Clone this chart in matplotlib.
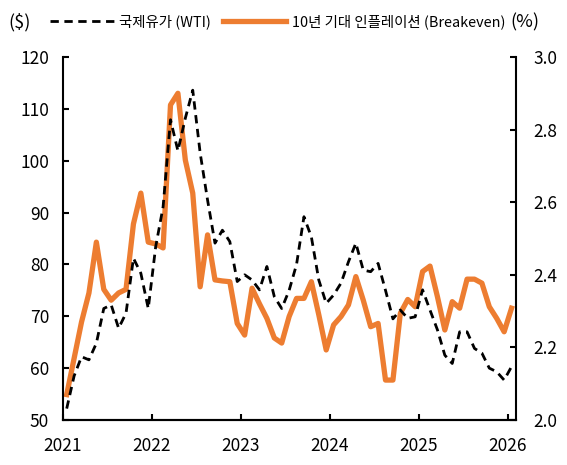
import numpy as np
import matplotlib
matplotlib.use("Agg")
import matplotlib.pyplot as plt
from matplotlib.lines import Line2D

plt.rcParams['font.family'] = ['Noto Sans CJK KR', 'DejaVu Sans']

# 월별 데이터 (2021.01 ~ 2026.01)
wti = [52.2, 58.5, 62.2, 61.6, 64.8, 71.5, 72.2, 67.7, 70.6, 81.2,
       78.3, 71.5, 83.4, 91.1, 107.9, 101.9, 108.2, 113.6, 101.5, 92.4,
       84.1, 86.6, 84.4, 76.7, 78.0, 77.0, 75.1, 79.6, 73.8, 71.5,
       75.0, 80.0, 89.2, 85.3, 77.0, 72.5, 74.1, 76.4, 80.5, 84.1,
       78.9, 78.6, 80.2, 75.0, 69.5, 71.2, 69.6, 69.9, 75.1, 71.2,
       67.4, 62.5, 60.9, 67.0, 67.0, 63.8, 62.9, 60.0, 59.3, 57.7, 60.3]
bei = [2.07, 2.17, 2.27, 2.35, 2.49, 2.36, 2.33, 2.35, 2.36, 2.54,
       2.625, 2.49, 2.485, 2.474, 2.868, 2.90, 2.716, 2.625, 2.367, 2.51,
       2.386, 2.383, 2.381, 2.266, 2.234, 2.363, 2.32, 2.28, 2.226, 2.212,
       2.285, 2.335, 2.335, 2.381, 2.29, 2.193, 2.262, 2.285, 2.317, 2.395,
       2.33, 2.257, 2.266, 2.11, 2.11, 2.294, 2.332, 2.312, 2.409, 2.424,
       2.34, 2.248, 2.326, 2.308, 2.388, 2.388, 2.377, 2.312, 2.28, 2.243, 2.308]
years = ['2021', '2022', '2023', '2024', '2025', '2026']

x = np.arange(len(wti)) + 0.5   # 월 중간에 점 찍기

fig = plt.figure(figsize=(5.67, 4.65), dpi=100)
ax = fig.add_axes([63/567, 45/465, (516-63)/567, (420-57)/465])
ax2 = ax.twinx()

orange = '#ED7D31'
ax.plot(x, wti, color='black', lw=2.0, ls=(0, (3, 2)), zorder=3)
ax2.plot(x, bei, color=orange, lw=3.8, zorder=2)
ax.set_zorder(ax2.get_zorder() + 1)
ax.patch.set_visible(False)

ax.set_xlim(0, 61.1)
ax.set_ylim(50, 120)
ax2.set_ylim(2.0, 3.0)
ax.set_xticks(np.arange(0, 61, 12))
ax.set_xticklabels(years)
ax.set_yticks(np.arange(50, 121, 10))
ax2.set_yticks(np.arange(2.0, 3.01, 0.2))
ax2.set_yticklabels([f'{v:.1f}' for v in np.arange(2.0, 3.01, 0.2)])

for a in (ax, ax2):
    a.spines['top'].set_visible(False)
    for s in a.spines.values():
        s.set_linewidth(1.5)
    a.tick_params(direction='in', length=4, width=1.5, labelsize=12.5)
ax.tick_params(axis='y', pad=10)
ax.tick_params(axis='x', pad=12)
ax2.tick_params(axis='y', pad=12.5)
ax2.spines['left'].set_visible(False)
ax.spines['right'].set_visible(False)

fig.text(8/567, 1 - 22/465, '($)', fontsize=13, va='center', ha='left')
fig.text(510/567, 1 - 22/465, '(%)', fontsize=13, va='center', ha='left')

handles = [Line2D([], [], color='black', lw=2.0, ls=(0, (3, 2))),
           Line2D([], [], color=orange, lw=3.8)]
labels = ['국제유가 (WTI)', '10년 기대 인플레이션 (Breakeven)']
fig.legend(handles, labels, loc='center left', bbox_to_anchor=(50/567, 1 - 22/465),
           ncol=2, frameon=False, fontsize=10.4, handlelength=4.4,
           handletextpad=0.4, columnspacing=0.8, borderpad=0, borderaxespad=0)

fig.savefig('out.png', dpi=100)
